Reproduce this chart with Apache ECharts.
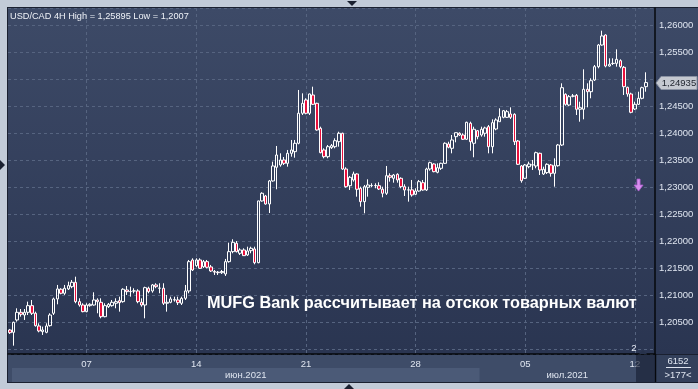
<!DOCTYPE html>
<html><head><meta charset="utf-8">
<script src="https://cdn.jsdelivr.net/npm/echarts@6/dist/echarts.min.js"></script>
<style>html,body{margin:0;padding:0;background:#c2cbd8;}#c{width:698px;height:389px;}</style>
</head><body><div id="c"></div>
<script>
// ---- data (USD/CAD 4H candles) ----
const opens = [1.20358,1.20315,1.20543,1.20685,1.20635,1.20685,1.20808,1.20667,1.20432,1.20327,
1.20315,1.20438,1.20667,1.20932,1.21111,1.21037,1.21117,1.21159,1.21240,1.20882,
1.20820,1.20697,1.20808,1.20820,1.20913,1.20870,1.20604,1.20789,1.20808,1.20852,
1.20900,1.20882,1.21098,1.21067,1.21080,1.21080,1.20870,1.20820,1.21130,1.21080,
1.21191,1.21130,1.21130,1.20852,1.20870,1.20913,1.20913,1.20852,1.20944,1.21080,
1.21653,1.21548,1.21653,1.21529,1.21622,1.21524,1.21440,1.21428,1.21418,1.21394,
1.21622,1.21807,1.21962,1.21777,1.21838,1.21746,1.21825,1.21857,1.21603,1.22745,
1.22837,1.22689,1.23115,1.23368,1.23410,1.23503,1.23441,1.23626,1.23657,1.23812,
1.24367,1.24613,1.24367,1.24705,1.24551,1.24089,1.23688,1.23564,1.23731,1.23749,
1.23841,1.23997,1.23336,1.23027,1.23133,1.23244,1.22979,1.22732,1.22998,1.23027,
1.23031,1.23027,1.22961,1.22887,1.23212,1.23164,1.23238,1.23164,1.23009,1.22948,
1.22950,1.22868,1.22929,1.23083,1.22948,1.23336,1.23429,1.23275,1.23349,1.23441,
1.23799,1.23719,1.23934,1.23997,1.23965,1.23886,1.24182,1.23812,1.24045,1.23965,
1.23997,1.24119,1.23749,1.24076,1.24211,1.24292,1.24292,1.24354,1.24348,1.23854,
1.23392,1.23164,1.23379,1.23410,1.23392,1.23626,1.23244,1.23269,1.23410,1.23256,
1.23397,1.23780,1.24718,1.24520,1.24687,1.24699,1.24441,1.24441,1.24811,1.24766,
1.24983,1.25229,1.25630,1.25815,1.25241,1.25291,1.25291,1.25340,1.25217,1.24847,
1.24724,1.24446,1.24533,1.24644,1.24859];
const closes = [1.20308,1.20500,1.20685,1.20648,1.20685,1.20808,1.20667,1.20438,1.20340,1.20358,
1.20432,1.20635,1.20932,1.21117,1.21037,1.21130,1.21178,1.21240,1.20882,1.20820,
1.20697,1.20820,1.20833,1.20913,1.20882,1.20604,1.20808,1.20833,1.20870,1.20882,
1.20863,1.21111,1.21067,1.21070,1.21080,1.20882,1.20820,1.21141,1.21067,1.21191,
1.21159,1.21133,1.20852,1.20870,1.20932,1.20918,1.20863,1.20944,1.21080,1.21622,
1.21468,1.21653,1.21499,1.21622,1.21518,1.21449,1.21428,1.21418,1.21440,1.21622,
1.21807,1.21980,1.21807,1.21838,1.21733,1.21820,1.21869,1.21603,1.22745,1.22887,
1.22689,1.23115,1.23392,1.23595,1.23503,1.23441,1.23626,1.23688,1.23812,1.24367,
1.24551,1.24367,1.24724,1.24533,1.24058,1.23638,1.23564,1.23749,1.23768,1.23860,
1.23997,1.23336,1.23009,1.23182,1.23244,1.22961,1.22732,1.23009,1.23040,1.23031,
1.23027,1.22966,1.22887,1.23212,1.23182,1.23225,1.23133,1.23009,1.22948,1.22950,
1.22856,1.22929,1.23102,1.22948,1.23336,1.23453,1.23287,1.23360,1.23441,1.23812,
1.23738,1.23873,1.24008,1.23965,1.23886,1.24200,1.23841,1.24071,1.23934,1.24071,
1.24095,1.23749,1.24193,1.24243,1.24303,1.24414,1.24396,1.24292,1.23841,1.23423,
1.23120,1.23410,1.23429,1.23414,1.23638,1.23318,1.23331,1.23423,1.23256,1.23397,
1.23780,1.24840,1.24533,1.24674,1.24683,1.24441,1.24470,1.24811,1.24766,1.24970,
1.25229,1.25630,1.25797,1.25241,1.25273,1.25287,1.25365,1.25229,1.24859,1.24724,
1.24385,1.24533,1.24644,1.24840,1.24935];
const lows = [1.20284,1.20068,1.20512,1.20604,1.20543,1.20635,1.20635,1.20420,1.20315,1.20266,
1.20297,1.20420,1.20635,1.20833,1.21018,1.21006,1.21098,1.21130,1.20852,1.20789,
1.20685,1.20685,1.20789,1.20808,1.20667,1.20574,1.20592,1.20765,1.20789,1.20759,
1.20697,1.20863,1.21006,1.20974,1.21037,1.20852,1.20789,1.20574,1.21037,1.21048,
1.21130,1.21037,1.20820,1.20697,1.20852,1.20882,1.20820,1.20820,1.20913,1.21037,
1.21449,1.21524,1.21487,1.21505,1.21499,1.21431,1.21376,1.21376,1.21394,1.21357,
1.21603,1.21777,1.21792,1.21746,1.21727,1.21727,1.21777,1.21573,1.21592,1.22732,
1.22676,1.22522,1.23102,1.22961,1.23379,1.23410,1.23379,1.23564,1.23545,1.23793,
1.24335,1.24348,1.24335,1.24520,1.24045,1.23626,1.23534,1.23534,1.23707,1.23719,
1.23749,1.23318,1.22990,1.22948,1.23102,1.22824,1.22639,1.22516,1.22824,1.22998,
1.22979,1.22948,1.22812,1.22856,1.23102,1.23083,1.23083,1.22979,1.22837,1.22732,
1.22824,1.22856,1.22916,1.22935,1.22929,1.23305,1.23275,1.23256,1.23318,1.23429,
1.23719,1.23626,1.23830,1.23947,1.23873,1.23873,1.23675,1.23553,1.23886,1.23934,
1.23934,1.23626,1.23626,1.24052,1.24211,1.24274,1.24280,1.24261,1.23780,1.23410,
1.23083,1.23151,1.23349,1.23318,1.23349,1.23225,1.23225,1.23244,1.23194,1.23009,
1.23379,1.23762,1.24507,1.24502,1.24662,1.24335,1.24211,1.24255,1.24477,1.24644,
1.24964,1.25199,1.25617,1.25217,1.25229,1.25260,1.25229,1.25199,1.24705,1.24674,
1.24367,1.24428,1.24520,1.24625,1.24766];
const highs = [1.20377,1.20512,1.20759,1.20746,1.20746,1.20882,1.20913,1.20697,1.20482,1.20420,
1.20482,1.20667,1.20956,1.21191,1.21130,1.21191,1.21252,1.21283,1.21344,1.20944,
1.20852,1.20852,1.20852,1.21055,1.20944,1.20944,1.20852,1.20857,1.20913,1.20944,
1.20974,1.21130,1.21172,1.21159,1.21130,1.21111,1.20944,1.21159,1.21159,1.21209,
1.21222,1.21222,1.21222,1.21006,1.20974,1.20974,1.20974,1.20974,1.21191,1.21653,
1.21684,1.21684,1.21684,1.21653,1.21653,1.21561,1.21468,1.21449,1.21468,1.21672,
1.21973,1.22036,1.22004,1.21869,1.21869,1.21899,1.21899,1.21899,1.22750,1.22906,
1.22856,1.23133,1.23472,1.23762,1.23626,1.23558,1.23688,1.23873,1.23873,1.24798,
1.24736,1.24644,1.24730,1.24859,1.24562,1.24119,1.23719,1.23780,1.23799,1.23904,
1.24026,1.24008,1.23368,1.23207,1.23287,1.23256,1.23009,1.23040,1.23145,1.23072,
1.23072,1.23090,1.23009,1.23392,1.23256,1.23244,1.23256,1.23182,1.23053,1.23009,
1.23133,1.22979,1.23133,1.23133,1.23360,1.23472,1.23441,1.23441,1.23453,1.23830,
1.23841,1.23965,1.24010,1.24015,1.23997,1.24211,1.24211,1.24119,1.24058,1.24119,
1.24119,1.24150,1.24255,1.24274,1.24459,1.24428,1.24428,1.24477,1.24367,1.23873,
1.23410,1.23429,1.23472,1.23503,1.23657,1.23638,1.23379,1.23441,1.23429,1.23534,
1.23799,1.24921,1.24736,1.24705,1.24724,1.24724,1.24581,1.25180,1.24921,1.25014,
1.25260,1.25649,1.25895,1.25828,1.25384,1.25384,1.25550,1.25365,1.25241,1.24859,
1.24748,1.24581,1.24766,1.24859,1.25125];

const slotCount = 177;                 // bars on screen incl. right shift
const firstBarTime = Date.UTC(2021, 5, 1, 12);
const yMin = 1.199135, yMax = 1.263145;
const titleText = 'USD/CAD 4H High = 1,25895 Low = 1,2007';
const captionText = 'MUFG Bank рассчитывает на отскок товарных валют';
const monthNames = ['июн.2021', 'июл.2021'];
const cornerTop = '6152', cornerBottom = '>177<';
const signalArrow = { index: 172, price: 1.2302 };

// categories: 4H bars Mon-Fri
const cats = [];
let t = firstBarTime;
while (cats.length < slotCount) {
  const wd = new Date(t).getUTCDay();
  if (wd !== 0 && wd !== 6) cats.push(new Date(t).toISOString());
  t += 4 * 3600 * 1000;
}
const isWeekStart = (v) => { const d = new Date(v); return d.getUTCDay() === 1 && d.getUTCHours() === 0; };
const candles = opens.map((o, i) => [o, closes[i], lows[i], highs[i]]);

const chart = echarts.init(document.getElementById('c'), null, { renderer: 'canvas' });
const FONT = 'Liberation Sans';
const gridL = 8, gridT = 8, gridW = 647, gridH = 346;

chart.setOption({
  backgroundColor: '#c2cbd8',
  animation: false,
  grid: { left: gridL, top: gridT, width: gridW, height: gridH, containLabel: false },
  xAxis: {
    type: 'category', data: cats, boundaryGap: true,
    axisLine: { show: true, lineStyle: { color: '#06080d', width: 1.5 } },
    axisTick: { show: false },
    axisLabel: {
      interval: (i, v) => isWeekStart(v),
      formatter: (v) => String(new Date(v).getUTCDate()).padStart(2, '0'),
      color: '#dfe5f0', fontSize: 9.5, fontFamily: FONT, margin: 5
    },
    splitLine: {
      show: true, alignWithLabel: true,
      interval: (i, v) => isWeekStart(v),
      lineStyle: { color: '#566480', type: [3, 3], width: 1 }
    }
  },
  yAxis: {
    type: 'value', position: 'right', min: yMin, max: yMax, splitNumber: 12, scale: true,
    axisLine: { show: true, lineStyle: { color: '#06080d', width: 1.5 } },
    axisTick: { show: false },
    axisLabel: {
      color: '#dfe5f0', fontSize: 9.5, fontFamily: FONT, margin: 4,
      showMinLabel: false, showMaxLabel: false,
      formatter: (v) => {
        const k = Math.round(v / 0.005);
        if (Math.abs(v - k * 0.005) > 1e-7) return '';
        if (v < 1.2025 || Math.abs(v - 1.25) < 1e-7) return '';
        return v.toFixed(5).replace('.', ',');
      }
    },
    splitLine: { show: true, lineStyle: { color: '#566480', type: [3, 3], width: 1 } }
  },
  series: [{
    type: 'candlestick', data: candles, barWidth: 3, silent: true,
    itemStyle: {
      color: 'rgba(0,0,0,0)', color0: '#e8103c',
      borderColor: '#ffffff', borderColor0: '#ffffff', borderWidth: 1
    }
  }],
  graphic: []
});

function px(idx, price) { return chart.convertToPixel({ gridIndex: 0 }, [idx, price]); }
const band = gridW / slotCount;
const julIdx = cats.findIndex(v => new Date(v).getUTCMonth() === 6);
const julX = px(julIdx, 1.23)[0] - band / 2;
const junX0 = gridL + 4;
const lastClose = closes[closes.length - 1];
const tagY = Math.round(px(0, lastClose)[1]);
const arr = px(signalArrow.index, signalArrow.price);
const right = gridL + gridW;

const g = [
  { type: 'rect', z: -10, shape: { x: 7, y: 7, width: 691, height: 376 }, style: { fill: '#1a2030' } },
  { type: 'rect', z: -9, shape: { x: 8, y: 8, width: 690, height: 346 },
    style: { fill: new echarts.graphic.LinearGradient(0, 0, 0, 1, [{ offset: 0, color: '#3d4a67' }, { offset: 1, color: '#2a3551' }]) } },
  { type: 'rect', z: -9, shape: { x: 8, y: 355, width: 647, height: 27 }, style: { fill: '#3e4c68' } },
  { type: 'rect', z: -8, shape: { x: junX0, y: 368, width: julX - junX0, height: 14 }, style: { fill: '#4b5a77' } },
  { type: 'rect', z: -9, shape: { x: 656, y: 355, width: 42, height: 27 }, style: { fill: '#33405b' } },
  { type: 'line', z: 5, shape: { x1: right + 0.5, y1: 354, x2: right + 0.5, y2: 382 }, style: { stroke: '#06080d', lineWidth: 1.5 } },
  { type: 'text', z: 10, style: { x: (junX0 + julX) / 2, y: 375, text: monthNames[0], align: 'center', verticalAlign: 'middle', fill: '#dfe5f0', font: '9.5px ' + FONT } },
  { type: 'text', z: 10, style: { x: (julX + right) / 2, y: 375, text: monthNames[1], align: 'center', verticalAlign: 'middle', fill: '#dfe5f0', font: '9.5px ' + FONT } },
  // corner box
  { type: 'text', z: 10, style: { x: 678, y: 361, text: cornerTop, align: 'center', verticalAlign: 'middle', fill: '#dfe5f0', font: '9.5px ' + FONT } },
  { type: 'line', z: 10, shape: { x1: 666, y1: 367.5, x2: 691, y2: 367.5 }, style: { stroke: '#dfe5f0', lineWidth: 1 } },
  { type: 'text', z: 10, style: { x: 678, y: 375, text: cornerBottom, align: 'center', verticalAlign: 'middle', fill: '#dfe5f0', font: '9.5px ' + FONT } },
  // bottom-right marker
  { type: 'rect', z: 12, shape: { x: 636, y: 355, width: 19, height: 27 }, style: { fill: 'rgba(24,32,52,0.65)' } },
  { type: 'polygon', z: 12, shape: { points: [[639, 354], [647, 354], [643, 350]] }, style: { fill: '#27324b' } },
  { type: 'text', z: 12, style: { x: 634, y: 348, text: '2', align: 'center', verticalAlign: 'middle', fill: '#e8ecf4', font: '9.5px ' + FONT } },
  // title
  { type: 'text', z: 10, style: { x: 10, y: 16, text: titleText, verticalAlign: 'middle', fill: '#eef1f7', font: '9.2px ' + FONT } },
  // caption
  { type: 'text', z: 10, style: { x: 207, y: 304, text: captionText, verticalAlign: 'middle', fill: '#ffffff', font: 'bold 16.3px ' + FONT } },
  // price tag
  { type: 'polygon', z: 20, shape: { points: [[656, tagY], [661, tagY - 6.5], [697, tagY - 6.5], [697, tagY + 6.5], [661, tagY + 6.5]] },
    style: { fill: '#c5c9d1', stroke: '#8a92a3', lineWidth: 1 } },
  { type: 'text', z: 21, style: { x: 679, y: tagY, text: lastClose.toFixed(5).replace('.', ','), align: 'center', verticalAlign: 'middle', fill: '#1d222c', font: '9.5px ' + FONT } },
  // signal arrow
  { type: 'polygon', z: 15, shape: { points: [
      [arr[0] - 1.5, arr[1] - 7], [arr[0] + 1.5, arr[1] - 7], [arr[0] + 1.5, arr[1] - 1], [arr[0] + 4.5, arr[1] - 1],
      [arr[0], arr[1] + 5], [arr[0] - 4.5, arr[1] - 1], [arr[0] - 1.5, arr[1] - 1]] },
    style: { fill: '#d88ef0', stroke: '#b060d0', lineWidth: 0.8 } },
  // UI arrows on outer frame
  { type: 'polygon', z: 10, shape: { points: [[347, 1], [357, 1], [352, 6]] }, style: { fill: '#1a2030' } },
  { type: 'polygon', z: 10, shape: { points: [[344, 389], [354, 389], [349, 384]] }, style: { fill: '#1a2030' } },
  { type: 'polygon', z: 10, shape: { points: [[0, 160], [0, 170], [5, 165]] }, style: { fill: '#1a2030' } }
];
chart.setOption({ graphic: g });
</script></body></html>
